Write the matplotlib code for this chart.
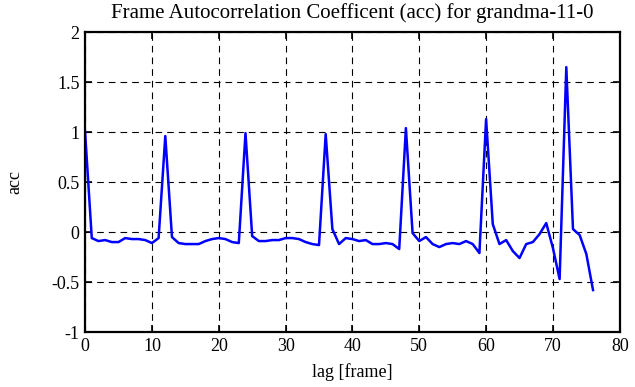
import matplotlib
matplotlib.use('Agg')
import matplotlib.pyplot as plt
import numpy as np

# autocorrelation values, lag 0..76
lags = np.arange(0, 77)
acc = [1.00, -0.06, -0.09, -0.08, -0.10, -0.10, -0.06, -0.07, -0.07, -0.08,
       -0.11, -0.06, 0.96, -0.05, -0.11, -0.12, -0.12, -0.12, -0.09, -0.07,
       -0.06, -0.07, -0.10, -0.11, 0.99, -0.04, -0.09, -0.09, -0.08, -0.08,
       -0.06, -0.06, -0.07, -0.10, -0.12, -0.13, 0.98, 0.03, -0.12, -0.06,
       -0.07, -0.09, -0.08, -0.12, -0.12, -0.11, -0.12, -0.17, 1.04, -0.01,
       -0.09, -0.05, -0.12, -0.15, -0.12, -0.11, -0.12, -0.09, -0.12, -0.21,
       1.13, 0.08, -0.12, -0.08, -0.19, -0.26, -0.12, -0.10, -0.02, 0.09,
       -0.16, -0.47, 1.65, 0.03, -0.03, -0.22, -0.58]

xticks = np.arange(0, 81, 10)
yticks = [-1, -0.5, 0, 0.5, 1, 1.5, 2]
yticklabels = ['-1', '-0.5', '0', '0.5', '1', '1.5', '2']

plt.rcParams['font.family'] = ['Liberation Serif', 'DejaVu Serif']
plt.rcParams['font.size'] = 13

fig = plt.figure(figsize=(6.35, 3.87), dpi=100)
ax = fig.add_axes([0.134, 0.142, 0.842, 0.775])

ax.plot(lags, acc, color='#0000ff', linewidth=1.8)

ax.set_xlim(0, 80)
ax.set_ylim(-1, 2)
ax.set_xticks(xticks)
ax.set_yticks(yticks)
ax.set_yticklabels(yticklabels)
ax.grid(True, color='black', linestyle=(0, (6, 4.5)), linewidth=0.8)
ax.tick_params(direction='in', top=True, right=True, length=5, width=1.2, pad=4)
for s in ax.spines.values():
    s.set_linewidth(1.6)

ax.set_xlabel('lag [frame]', labelpad=6)
ax.set_ylabel('acc', labelpad=20)
ax.set_title('Frame Autocorrelation Coefficent (acc) for grandma-11-0',
             fontsize=15, pad=10)

fig.savefig('out.png', dpi=100)
